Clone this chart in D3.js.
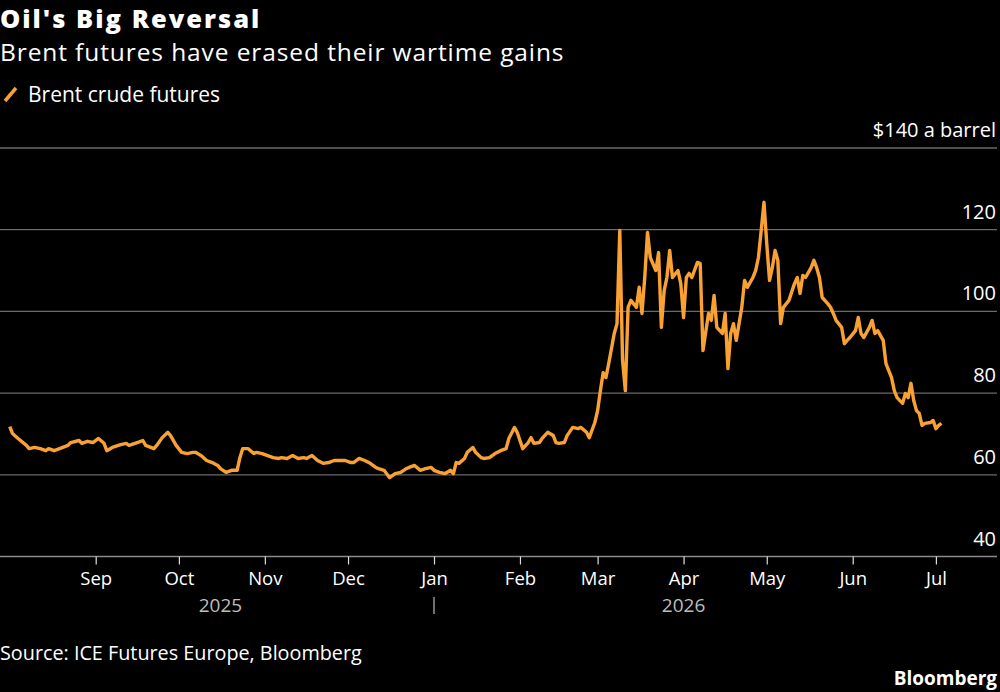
<!DOCTYPE html>
<html>
<head>
<meta charset="utf-8">
<script src="https://cdn.jsdelivr.net/npm/d3@7"></script>
<style>
  body { margin: 0; background: #000; }
  svg { display: block; }
  text { font-family: "Open Sans", sans-serif; }
</style>
</head>
<body>
<svg id="chart" width="1000" height="692"></svg>
<script>
// Brent crude futures, $ a barrel
let dates = [
  "2025-08-01","2025-08-02","2025-08-04","2025-08-07","2025-08-08","2025-08-10","2025-08-12","2025-08-14",
  "2025-08-15","2025-08-17","2025-08-19","2025-08-22","2025-08-23","2025-08-26","2025-08-27","2025-08-29",
  "2025-08-31","2025-09-02","2025-09-04","2025-09-05","2025-09-07","2025-09-10","2025-09-12","2025-09-13",
  "2025-09-16","2025-09-18","2025-09-19","2025-09-22","2025-09-23","2025-09-25","2025-09-27","2025-09-28",
  "2025-09-30","2025-10-02","2025-10-04","2025-10-06","2025-10-07","2025-10-09","2025-10-11","2025-10-13",
  "2025-10-15","2025-10-16","2025-10-18","2025-10-20","2025-10-22","2025-10-23","2025-10-24","2025-10-26",
  "2025-10-28","2025-10-29","2025-10-31","2025-11-02","2025-11-04","2025-11-06","2025-11-07","2025-11-09",
  "2025-11-11","2025-11-13","2025-11-15","2025-11-16","2025-11-18","2025-11-20","2025-11-22","2025-11-24",
  "2025-11-26","2025-11-28","2025-11-30","2025-12-02","2025-12-03","2025-12-05","2025-12-07","2025-12-09",
  "2025-12-11","2025-12-12","2025-12-14","2025-12-16","2025-12-18","2025-12-20","2025-12-22","2025-12-23",
  "2025-12-25","2025-12-27","2025-12-29","2025-12-31","2026-01-01","2026-01-03","2026-01-05","2026-01-07",
  "2026-01-08","2026-01-09","2026-01-10","2026-01-12","2026-01-13","2026-01-15","2026-01-16","2026-01-18",
  "2026-01-19","2026-01-21","2026-01-23","2026-01-25","2026-01-27","2026-01-28","2026-01-30","2026-01-31",
  "2026-02-01","2026-02-02","2026-02-04","2026-02-05","2026-02-06","2026-02-08","2026-02-09","2026-02-11",
  "2026-02-13","2026-02-14","2026-02-15","2026-02-17","2026-02-18","2026-02-20","2026-02-22","2026-02-23",
  "2026-02-25","2026-02-26","2026-02-28","2026-03-01","2026-03-02","2026-03-03","2026-03-04","2026-03-05",
  "2026-03-07","2026-03-08","2026-03-09","2026-03-10","2026-03-11","2026-03-12","2026-03-13","2026-03-15",
  "2026-03-16","2026-03-17","2026-03-18","2026-03-19","2026-03-20","2026-03-22","2026-03-23","2026-03-24",
  "2026-03-25","2026-03-26","2026-03-27","2026-03-28","2026-03-30","2026-03-31","2026-04-01","2026-04-02",
  "2026-04-03","2026-04-04","2026-04-06","2026-04-07","2026-04-08","2026-04-10","2026-04-11","2026-04-12",
  "2026-04-13","2026-04-15","2026-04-16","2026-04-17","2026-04-18","2026-04-19","2026-04-20","2026-04-22",
  "2026-04-23","2026-04-24","2026-04-26","2026-04-27","2026-04-28","2026-04-29","2026-04-30","2026-05-01",
  "2026-05-02","2026-05-03","2026-05-04","2026-05-05","2026-05-06","2026-05-07","2026-05-09","2026-05-11",
  "2026-05-12","2026-05-13","2026-05-14","2026-05-15","2026-05-17","2026-05-18","2026-05-19","2026-05-20",
  "2026-05-21","2026-05-23","2026-05-24","2026-05-25","2026-05-26","2026-05-28","2026-05-29","2026-05-30",
  "2026-05-31","2026-06-02","2026-06-03","2026-06-04","2026-06-05","2026-06-07","2026-06-08","2026-06-09",
  "2026-06-10","2026-06-12","2026-06-13","2026-06-14","2026-06-15","2026-06-16","2026-06-17","2026-06-19",
  "2026-06-20","2026-06-21","2026-06-22","2026-06-23","2026-06-24","2026-06-25","2026-06-26","2026-06-27",
  "2026-06-29","2026-06-30","2026-07-01","2026-07-02","2026-07-03"
];

let brent = [
  71.8, 70.1, 68.9, 67.2, 66.4, 66.7, 66.4, 65.9,
  66.4, 65.9, 66.4, 67.2, 67.9, 68.4, 67.7, 68.2,
  67.9, 68.9, 67.7, 65.9, 66.7, 67.4, 67.7, 67.2,
  67.9, 68.4, 67.2, 66.4, 67.2, 69.1, 70.4, 69.6,
  67.2, 65.5, 65.2, 65.5, 65.5, 64.7, 63.5, 63.0,
  62.3, 61.5, 60.6, 61.1, 61.1, 64.2, 66.4, 66.4,
  65.2, 65.5, 65.2, 64.7, 64.2, 64.0, 64.2, 64.0,
  64.7, 64.0, 64.2, 64.0, 64.7, 63.5, 62.8, 63.0,
  63.5, 63.5, 63.5, 63.0, 63.0, 64.0, 63.5, 62.8,
  61.8, 61.5, 61.1, 59.3, 60.3, 60.6, 61.5, 61.8,
  62.3, 61.1, 61.5, 61.8, 61.1, 60.6, 60.3, 61.1,
  60.3, 63.0, 62.8, 64.0, 65.5, 66.7, 65.5, 64.2,
  64.0, 64.2, 65.2, 65.9, 66.4, 68.9, 71.6, 70.4,
  68.4, 66.4, 67.9, 69.1, 67.7, 67.9, 68.9, 70.4,
  69.6, 67.9, 67.7, 67.9, 69.6, 71.6, 71.3, 71.6,
  70.4, 69.1, 72.8, 75.7, 80.6, 85.0, 83.8, 87.2,
  94.6, 97.0, 119.8, 88.0, 80.6, 101.0, 102.7, 101.0,
  105.9, 99.5, 108.3, 119.3, 113.2, 110.0, 114.4, 96.1,
  105.1, 108.3, 114.9, 108.3, 110.0, 106.8, 98.5, 108.3,
  109.3, 108.3, 112.0, 111.7, 90.4, 99.5, 97.8, 103.9,
  96.1, 94.6, 99.5, 86.0, 94.6, 97.0, 92.9, 101.0,
  107.6, 105.9, 108.3, 110.0, 113.2, 119.8, 126.7, 116.6,
  107.6, 110.7, 114.9, 112.5, 97.0, 101.0, 102.7, 106.8,
  108.3, 104.4, 108.8, 108.3, 110.7, 112.5, 110.7, 108.3,
  103.4, 101.9, 101.0, 99.5, 97.8, 96.1, 92.1, 92.9,
  93.6, 95.3, 98.5, 94.6, 93.6, 96.1, 97.8, 94.6,
  95.3, 92.9, 87.2, 85.5, 83.8, 80.6, 78.9, 77.5,
  79.9, 78.9, 82.4, 78.2, 75.7, 75.0, 72.1, 72.6,
  72.8, 73.3, 71.3, 72.1, 72.6
];

let yTicks = [40, 60, 80, 100, 120, 140];
let monthTicks = ["2025-09-01","2025-10-01","2025-11-01","2025-12-01","2026-01-01","2026-02-01",
                  "2026-03-01","2026-04-01","2026-05-01","2026-06-01","2026-07-01"];
let yearLabels = [{ year: "2025", date: "2025-10-16" }, { year: "2026", date: "2026-04-01" }];

let lineColor = "#f9a133";
let parseDate = d3.timeParse("%Y-%m-%d");

let data = dates.map(function(d, i) {
    return { date: parseDate(d), value: brent[i] };
});

let svg = d3.select("#chart");

svg.append("rect").attr("width", 1000).attr("height", 692).attr("fill", "#000");

let xScale = d3.scaleTime()
    .domain([parseDate("2025-09-01"), parseDate("2026-07-01")])
    .range([95.7, 935.9]);

let yScale = d3.scaleLinear()
    .domain([40, 140])
    .range([556.5, 148]);

// gridlines
svg.selectAll(".grid")
    .data(yTicks)
    .enter()
    .append("line")
    .attr("x1", 0)
    .attr("x2", 997)
    .attr("y1", function(d) { return yScale(d); })
    .attr("y2", function(d) { return yScale(d); })
    .attr("stroke", function(d) { return d === 40 ? "#8a8a8a" : "#6a6a6a"; })
    .attr("stroke-width", 1.3);

// y labels sit above the gridlines, right aligned
svg.selectAll(".ylab")
    .data(yTicks)
    .enter()
    .append("text")
    .attr("x", 996)
    .attr("y", function(d) { return yScale(d) - 11; })
    .attr("text-anchor", "end")
    .attr("fill", "#fff")
    .style("font-size", "20px")
    .text(function(d) { return d === 140 ? "$140 a barrel" : d; });

// x axis
let xAxis = svg.append("g")
    .attr("transform", "translate(0," + yScale(40) + ")")
    .call(d3.axisBottom(xScale)
        .tickValues(monthTicks.map(parseDate))
        .tickSize(8)
        .tickPadding(7)
        .tickFormat(d3.timeFormat("%b")));
xAxis.select(".domain").remove();
xAxis.selectAll("line").attr("stroke", "#ddd").attr("stroke-width", 1.2);
xAxis.selectAll("text")
    .attr("fill", "#fff")
    .style("font-family", "Open Sans")
    .style("font-size", "18.5px");

svg.selectAll(".year")
    .data(yearLabels)
    .enter()
    .append("text")
    .attr("x", function(d) { return xScale(parseDate(d.date)); })
    .attr("y", 612)
    .attr("text-anchor", "middle")
    .attr("fill", "#bdbdbd")
    .style("font-size", "19px")
    .text(function(d) { return d.year; });

// year separator at Jan
svg.append("line")
    .attr("x1", xScale(parseDate("2026-01-01")))
    .attr("x2", xScale(parseDate("2026-01-01")))
    .attr("y1", 597)
    .attr("y2", 614)
    .attr("stroke", "#bdbdbd")
    .attr("stroke-width", 1.2);

// the line
let line = d3.line()
    .x(function(d) { return xScale(d.date); })
    .y(function(d) { return yScale(d.value); });

svg.append("path")
    .datum(data)
    .attr("d", line)
    .attr("fill", "none")
    .attr("stroke", lineColor)
    .attr("stroke-width", 3.4)
    .attr("stroke-linejoin", "round");

// title block
svg.append("text")
    .attr("x", 0).attr("y", 27.5)
    .attr("fill", "#fff")
    .style("font-size", "25.5px")
    .style("font-weight", "800")
    .style("letter-spacing", "2px")
    .text("Oil's Big Reversal");

svg.append("text")
    .attr("x", 0).attr("y", 61.3)
    .attr("fill", "#fff")
    .style("font-size", "24.5px")
    .style("letter-spacing", "0.9px")
    .text("Brent futures have erased their wartime gains");

// legend
svg.append("line")
    .attr("x1", 5).attr("y1", 101)
    .attr("x2", 16).attr("y2", 88)
    .attr("stroke", lineColor)
    .attr("stroke-width", 3.5);

svg.append("text")
    .attr("x", 28).attr("y", 102)
    .attr("fill", "#fff")
    .style("font-size", "21px")
    .text("Brent crude futures");

// footer
svg.append("text")
    .attr("x", 0).attr("y", 660)
    .attr("fill", "#fff")
    .style("font-size", "19.8px")
    .text("Source: ICE Futures Europe, Bloomberg");

svg.append("text")
    .attr("x", 997).attr("y", 685)
    .attr("text-anchor", "end")
    .attr("fill", "#fff")
    .style("font-size", "19px")
    .style("font-weight", "bold")
    .text("Bloomberg");
</script>
</body>
</html>
